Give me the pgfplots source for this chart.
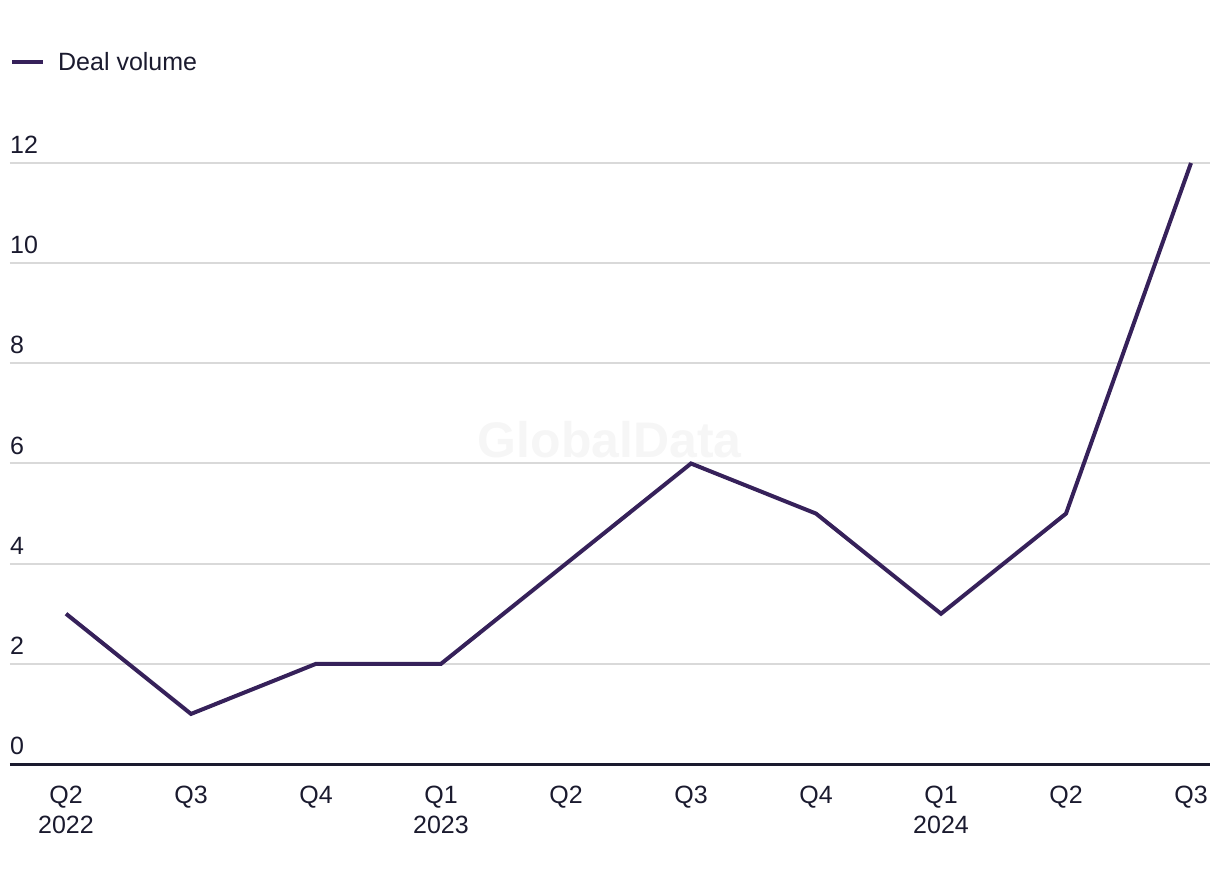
\documentclass[border=0pt]{standalone}
\usepackage{pgfplots}
\pgfplotsset{compat=1.18}
\usepackage{fontspec}
\setmainfont{Liberation Sans}
\definecolor{lineC}{RGB}{54,33,90}
\definecolor{txtC}{RGB}{26,26,46}
\definecolor{gridC}{RGB}{217,217,217}
\definecolor{wmC}{RGB}{246,246,246}
\begin{document}
\begin{tikzpicture}[x=1pt,y=1pt]
\useasboundingbox (0,0) rectangle (1220,884);
\begin{axis}[
  at={(10pt,120pt)}, anchor=south west,
  scale only axis, width=1200pt, height=601pt,
  xmin=-0.448, xmax=9.152, ymin=0, ymax=12,
  clip=false,
  axis x line=bottom, axis y line=left,
  x axis line style={draw=txtC, line width=3pt, -},
  y axis line style={draw=none},
  xtick={0,...,9},
  xticklabels={{Q2\\2022},Q3,Q4,{Q1\\2023},Q2,Q3,Q4,{Q1\\2024},Q2,Q3},
  ytick={0,2,...,12},
  major tick length=0pt,
  ymajorgrids,
  major grid style={draw=gridC, line width=2pt},
  /pgf/number format/assume math mode=true,
  xticklabel style={font=\fontsize{25}{30}\selectfont, text=txtC, align=center, anchor=north, yshift=-19pt},
  yticklabel style={font=\fontsize{25}{30}\selectfont, text=txtC, anchor=south west, inner sep=0pt, yshift=9pt},
  legend style={at={(0,1.168)}, anchor=west, draw=none, fill=none, inner sep=0pt,
    font=\fontsize{25}{30}\selectfont, text=txtC, legend cell align=left},
  legend image code/.code={\draw[line width=4pt, lineC] (0pt,0pt) -- (31pt,0pt);},
]
\node[font=\bfseries\fontsize{50}{60}\selectfont, text=wmC] at (axis cs:4.35,6.47) {GlobalData};
\addplot[draw=lineC, line width=4pt, line join=miter] coordinates {
  (0,3) (1,1) (2,2) (3,2) (4,4) (5,6) (6,5) (7,3) (8,5) (9,12)
};
\addlegendentry{\hspace{11pt}Deal volume}
\end{axis}
\end{tikzpicture}
\end{document}
